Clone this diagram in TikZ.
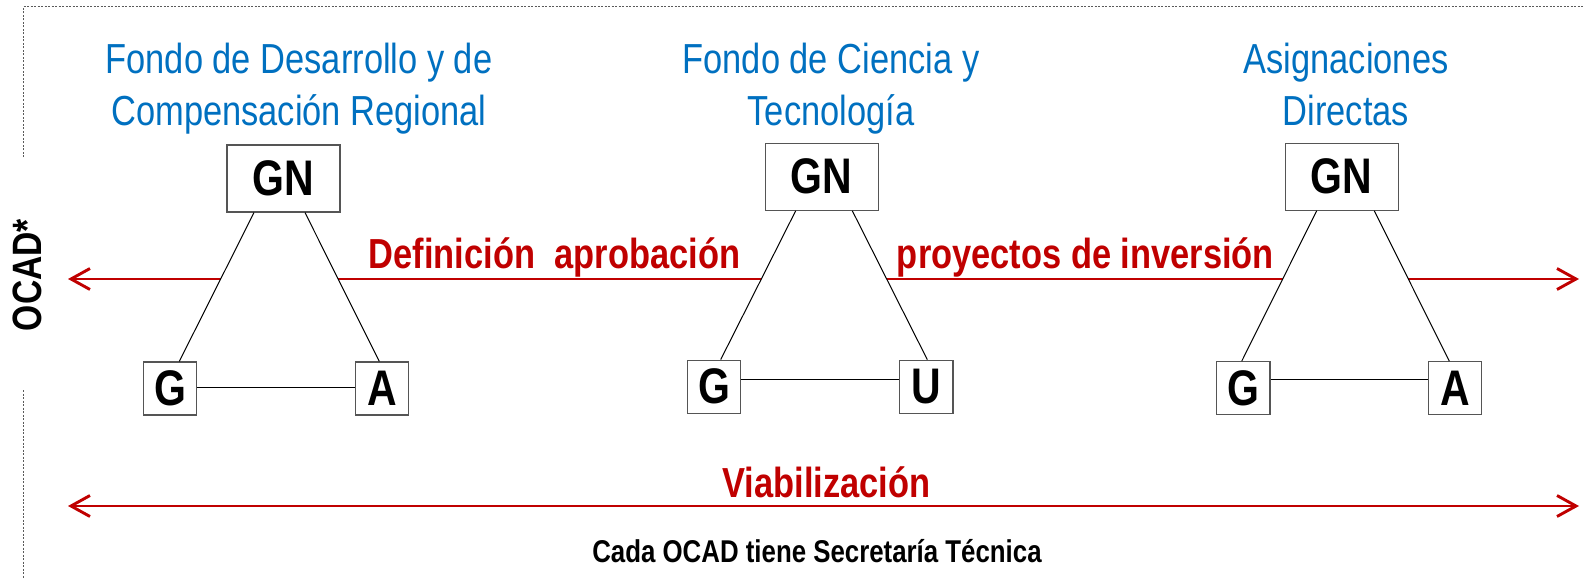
\documentclass[tikz,border=0pt]{standalone}
\usepackage{fontspec}
\setmainfont{Liberation Sans}[FakeStretch=0.82]
\usetikzlibrary{arrows.meta,backgrounds}
\definecolor{ocadblue}{RGB}{0,112,192}
\definecolor{ocadred}{RGB}{192,0,0}
\definecolor{boxgray}{RGB}{85,85,85}
\definecolor{dotgray}{RGB}{90,90,90}
\begin{document}
\begin{tikzpicture}[x=1pt,y=-1pt,
  title/.style={text=ocadblue, align=center, font=\fontsize{42}{52}\selectfont, inner sep=0},
  boxnode/.style={draw=boxgray, line width=1.2pt, fill=white, inner sep=0, font=\bfseries\fontsize{50}{60}\selectfont},
  bignode/.style={boxnode, minimum width=113pt, minimum height=67pt},
  smallnode/.style={boxnode, minimum width=53.5pt, minimum height=53pt},
  link/.style={line width=1pt, black},
  redarrow/.style={draw=ocadred, line width=2.9pt, {Straight Barb[length=19pt,width=21pt]}-{Straight Barb[length=19pt,width=21pt]}},
  redtext/.style={text=ocadred, font=\bfseries\fontsize{42}{50}\selectfont, inner sep=0, anchor=base},
  border/.style={dotgray, line width=1pt, dash pattern=on 2pt off 1.5pt}
]
\useasboundingbox (0,0) rectangle (1583,578);

% dotted frame
\draw[border] (23,157) -- (23,7) -- (1583,7);
\draw[border] (23,390) -- (23,578);

% side label
\node[rotate=90, font=\bfseries\fontsize{41}{48}\selectfont, inner sep=0] (ocad) at (27,275) {OCAD*};

% titles
\node[title, anchor=base] (t1) at (299,125) {Fondo de Desarrollo y de\\Compensación Regional};
\node[title, anchor=base] (t2) at (831,125) {Fondo de Ciencia y\\Tecnología};
\node[title, anchor=base] (t3) at (1346,125) {Asignaciones\\Directas};

% arrow end points
\coordinate (l1) at (68,279);
\coordinate (r1) at (1579,279);
\coordinate (l2) at (68,506);
\coordinate (r2) at (1579,506);

% boxes
\node[bignode] (gn1) at (283.5,178.5) {GN};
\node[smallnode] (g1) at (170,388.5) {G};
\node[smallnode] (a1) at (382,388.5) {A};

\node[bignode] (gn2) at (821.7,176.7) {GN};
\node[smallnode] (g2) at (714,386.7) {G};
\node[smallnode] (u2) at (926.3,386.7) {U};

\node[bignode] (gn3) at (1341.7,176.7) {GN};
\node[smallnode] (g3) at (1243.3,388.3) {G};
\node[smallnode] (a3) at (1455,388.3) {A};

% red arrows under white triangles
\begin{scope}[on background layer]
  \draw[redarrow] (l1) -- (r1);
  \draw[redarrow] (l2) -- (r2);
  \fill[white] ([xshift=-29.5pt]gn1.south) -- ([xshift=21.5pt]gn1.south) -- ([xshift=-2.7pt]a1.north) -- ([xshift=9.3pt]g1.north) -- cycle;
  \fill[white] ([xshift=-26pt]gn2.south) -- ([xshift=30.6pt]gn2.south) -- ([xshift=1pt]u2.north) -- ([xshift=6.7pt]g2.north) -- cycle;
  \fill[white] ([xshift=-25pt]gn3.south) -- ([xshift=32.6pt]gn3.south) -- ([xshift=-5.7pt]a3.north) -- ([xshift=-1.6pt]g3.north) -- cycle;
\end{scope}

% triangle links
\draw[link] ([xshift=-29.5pt]gn1.south) -- ([xshift=9.3pt]g1.north);
\draw[link] ([xshift=21.5pt]gn1.south) -- ([xshift=-2.7pt]a1.north);
\draw[link] ([yshift=1pt]g1.east) -- ([yshift=1pt]a1.west);

\draw[link] ([xshift=-26pt]gn2.south) -- ([xshift=6.7pt]g2.north);
\draw[link] ([xshift=30.6pt]gn2.south) -- ([xshift=1pt]u2.north);
\draw[link] ([yshift=7.4pt]g2.east) -- ([yshift=7.4pt]u2.west);

\draw[link] ([xshift=-25pt]gn3.south) -- ([xshift=-1.6pt]g3.north);
\draw[link] ([xshift=32.6pt]gn3.south) -- ([xshift=-5.7pt]a3.north);
\draw[link] ([yshift=9pt]g3.east) -- ([yshift=9pt]a3.west);

% red labels
\node[redtext] (def) at (554.5,268) {Definición\ \ aprobación};
\node[redtext] (proy) at (1085.5,268) {proyectos de inversión};
\node[redtext] (viab) at (826.5,497) {Viabilización};

% footnote
\node[anchor=base, font=\bfseries\fontsize{31.5}{36}\selectfont, inner sep=0] (cada) at (817,562) {Cada OCAD tiene Secretaría Técnica};
\end{tikzpicture}
\end{document}
